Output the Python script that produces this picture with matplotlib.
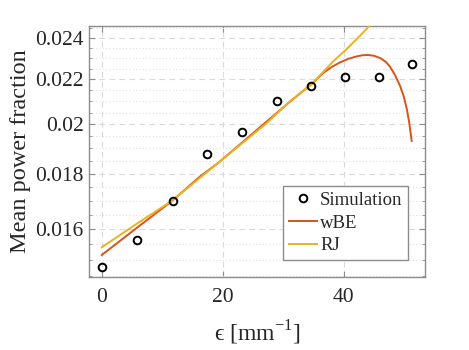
import numpy as np
import matplotlib
matplotlib.use("Agg")
import matplotlib.pyplot as plt
from matplotlib.ticker import FixedLocator, FixedFormatter, NullFormatter

# ---- data ----
sim_x = [0.0, 5.8, 11.7, 17.4, 23.1, 28.9, 34.6, 40.2, 45.8, 51.3]
sim_y = [0.01478, 0.01564, 0.01699, 0.01878, 0.01967, 0.02101, 0.02169, 0.02210, 0.02212, 0.02271]

wbe_x = [0.0, 5.8, 11.6, 16.2, 19.3, 27.2, 31.1, 34.7, 36.6, 38.0, 39.3, 40.7, 42.1, 43.1, 44.0, 45.0, 46.0, 46.9, 47.6, 48.4, 49.3, 49.9, 50.4, 50.8, 51.2]
wbe_y = [0.01515, 0.01605, 0.01699, 0.01789, 0.01843, 0.02010, 0.02098, 0.02178, 0.02230, 0.02258, 0.02279, 0.02297, 0.02309, 0.02315, 0.02316, 0.02312, 0.02301, 0.02283, 0.02260, 0.02222, 0.02168, 0.02120, 0.02065, 0.02005, 0.01930]

rj_x = [0.0, 5.8, 11.6, 19.3, 27.2, 31.1, 34.7, 38.2, 40.2, 42.0, 43.6, 44.2, 45.0]
rj_y = [0.01540, 0.01619, 0.01700, 0.01843, 0.02003, 0.02100, 0.02178, 0.02284, 0.02338, 0.02392, 0.02443, 0.02464, 0.02490]

x_ticks = [0, 20, 40]
y_ticks = [0.016, 0.018, 0.020, 0.022, 0.024]
y_tick_labels = ["0.016", "0.018", "0.02", "0.022", "0.024"]

plt.rcParams['font.family'] = ['Liberation Serif', 'DejaVu Serif']
plt.rcParams['mathtext.fontset'] = 'custom'
plt.rcParams['mathtext.rm'] = 'Liberation Serif'

fig = plt.figure(figsize=(4.69, 3.5), dpi=100)
ax = fig.add_axes([89/469, 1-277/350, (425-89)/469, (277-26)/350])

ax.set_yscale('log')
ax.set_xlim(-2.1, 53.4)
ax.set_ylim(0.01446, 0.02463)

ax.yaxis.set_major_locator(FixedLocator(y_ticks))
ax.yaxis.set_major_formatter(FixedFormatter(y_tick_labels))
ax.yaxis.set_minor_locator(FixedLocator(list(np.arange(0.0145, 0.0250, 0.0005))))
ax.yaxis.set_minor_formatter(NullFormatter())
ax.xaxis.set_major_locator(FixedLocator(x_ticks))

ax.grid(True, which='major', color='#d9d9d9', linestyle=(0, (5, 4)), linewidth=0.8)
ax.grid(True, which='minor', axis='y', color='#e2e2e2', linestyle=(0, (1, 2)), linewidth=0.8)
ax.set_axisbelow(True)

ax.plot(sim_x, sim_y, linestyle='none', marker='o', markersize=5.5, markerfacecolor='none',
        markeredgecolor='black', markeredgewidth=1.4, label='Simulation', zorder=4)
ax.plot(wbe_x, wbe_y, color='#D95319', linewidth=1.4, label='wBE', zorder=3)
ax.plot(rj_x, rj_y, color='#EDB120', linewidth=1.4, label='RJ', zorder=3)

for s in ax.spines.values():
    s.set_color('#8c8c8c')
    s.set_linewidth(1.0)
ax.tick_params(which='both', direction='in', top=True, right=True, color='#8c8c8c',
               labelsize=15.5, labelcolor='#262626')
ax.tick_params(which='major', length=4)
ax.tick_params(which='minor', length=2.5)
ax.tick_params(axis='x', pad=8)
ax.tick_params(axis='y', pad=4)

ax.set_ylabel('Mean power fraction', fontsize=17.5, color='#262626', labelpad=3)
ax.set_xlabel('ϵ [mm$^{\\mathregular{-1}}$]', fontsize=17, color='#262626', labelpad=8)

leg = ax.legend(loc='lower right', fontsize=13.5, frameon=True, fancybox=False,
                edgecolor='#8c8c8c', framealpha=1, borderpad=0.3, labelspacing=0.3,
                handlelength=1.5, handletextpad=0.15, borderaxespad=0.9)
leg.get_frame().set_linewidth(1.0)
for t in leg.get_texts():
    t.set_color('#262626')

fig.savefig('out.png', dpi=100)
